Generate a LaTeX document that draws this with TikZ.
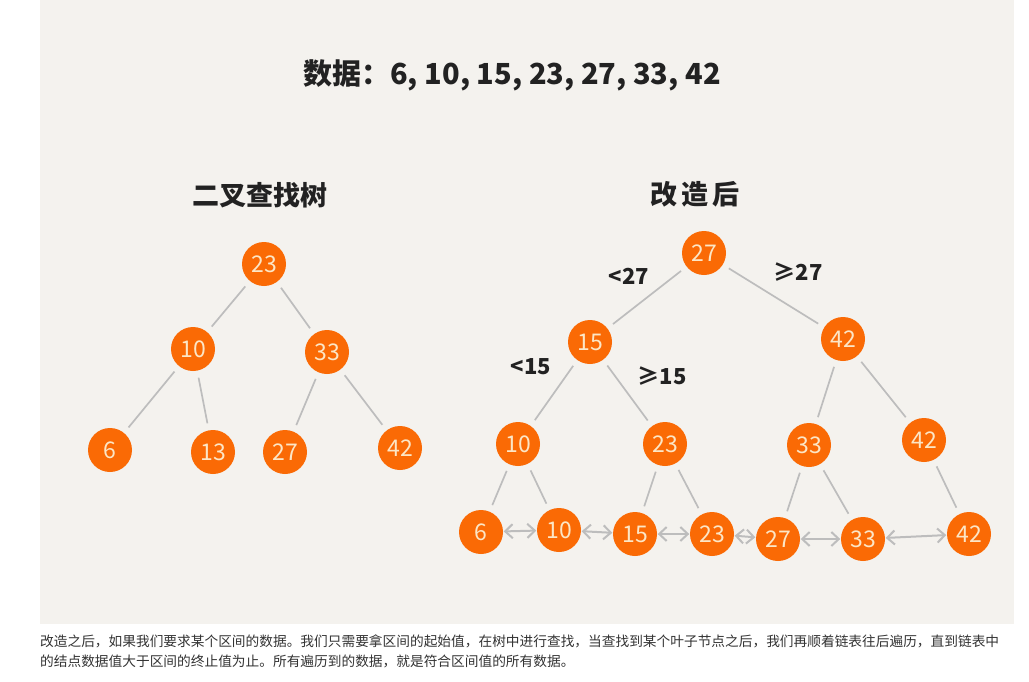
\documentclass[tikz,border=0pt]{standalone}
\usepackage{fontspec}
\setmainfont{Noto Sans CJK SC}
\usetikzlibrary{arrows.meta}
\definecolor{bg}{HTML}{F4F2EE}
\definecolor{nodeor}{HTML}{FA6A05}
\definecolor{numc}{HTML}{FCE6C6}
\definecolor{edgec}{HTML}{BDBDBD}
\definecolor{inkc}{HTML}{222222}
\definecolor{capc}{HTML}{333333}
\begin{document}
\begin{tikzpicture}[x=1pt,y=-1pt,
  nd/.style={circle,fill=nodeor,minimum size=44pt,inner sep=0pt,text=numc,font=\fontsize{23}{23}\selectfont},
  edge/.style={draw=edgec,line width=1.7pt,shorten >=7pt,shorten <=7pt},
  link/.style={draw=edgec,line width=2pt,{Straight Barb[length=7.5pt,width=14pt]}-{Straight Barb[length=7.5pt,width=14pt]},shorten >=0.5pt,shorten <=0.5pt},
  ttl/.style={text=inkc,font=\fontsize{27}{27}\selectfont\bfseries},
  hdrtxt/.style={text=inkc,font=\fontsize{29}{29}\selectfont\bfseries},
  lbl/.style={text=inkc,font=\fontsize{22}{22}\selectfont\bfseries},
  captxt/.style={anchor=west,text=capc,inner sep=0pt,font=\fontsize{13.7}{14}\selectfont}]
\fill[white] (0,0) rectangle (1029,681);
\fill[bg] (40,0) rectangle (1014,624);
\useasboundingbox (0,0) rectangle (1029,681);

% header
\node[hdrtxt] (hdr) at (512,75) {数据：6, 10, 15, 23, 27, 33, 42};

% left tree
\node[ttl] (tl) at (260,195) {二叉查找树};
\node[nd] (a23) at (264,264) {23};
\node[nd] (a10) at (193,349) {10};
\node[nd] (a33) at (327,352) {33};
\node[nd] (a6) at (110,450) {6};
\node[nd] (a13) at (213,452) {13};
\node[nd] (a27) at (285,452) {27};
\node[nd] (a42) at (400,448) {42};
\draw[edge] (a23) -- (a10);
\draw[edge] (a23) -- (a33);
\draw[edge] (a10) -- (a6);
\draw[edge] (a10) -- (a13);
\draw[edge] (a33) -- (a27);
\draw[edge] (a33) -- (a42);

% right tree
\node[ttl] (tr) at (695,194) {改\,造\,后};
\node[nd] (b27) at (704,253) {27};
\node[nd] (b15) at (590,342) {15};
\node[nd] (b42) at (843,339) {42};
\node[nd] (c10) at (518,444) {10};
\node[nd] (c23) at (665,444) {23};
\node[nd] (c33) at (809,445) {33};
\node[nd] (c42) at (924,440) {42};
\node[nd] (d6) at (481,532) {6};
\node[nd] (d10) at (559,530) {10};
\node[nd] (d15) at (635,534) {15};
\node[nd] (d23) at (712,534) {23};
\node[nd] (d27) at (778,539) {27};
\node[nd] (d33) at (863,539) {33};
\node[nd] (d42) at (969,534) {42};

\draw[edge] (b27) -- (b15);
\draw[edge] (b27) -- (b42);
\draw[edge] (b15) -- (c10);
\draw[edge] (b15) -- (c23);
\draw[edge] (b42) -- (c33);
\draw[edge] (b42) -- (c42);
\draw[edge] (c10) -- (d6);
\draw[edge] (c10) -- (d10);
\draw[edge] (c23) -- (d15);
\draw[edge] (c23) -- (d23);
\draw[edge] (c33) -- (d27);
\draw[edge] (c33) -- (d33);
\draw[edge] (c42) -- (d42);

\draw[link] (d6) -- (d10);
\draw[link] (d10) -- (d15);
\draw[link] (d15) -- (d23);
\draw[link] (d23) -- (d27);
\draw[link] (d27) -- (d33);
\draw[link] (d33) -- (d42);

\node[lbl] (l1) at (629,276) {<27};
\node[lbl] (l2) at (798,272) {≥27};
\node[lbl] (l3) at (531,367) {<15};
\node[lbl] (l4) at (662,376) {≥15};

% caption
\node[captxt] (c1) at (40,641) {改造之后，如果我们要求某个区间的数据。我们只需要拿区间的起始值，在树中进行查找，当查找到某个叶子节点之后，我们再顺着链表往后遍历，直到链表中};
\node[captxt] (c2) at (40,661) {的结点数据值大于区间的终止值为止。所有遍历到的数据，就是符合区间值的所有数据。};
\end{tikzpicture}
\end{document}
